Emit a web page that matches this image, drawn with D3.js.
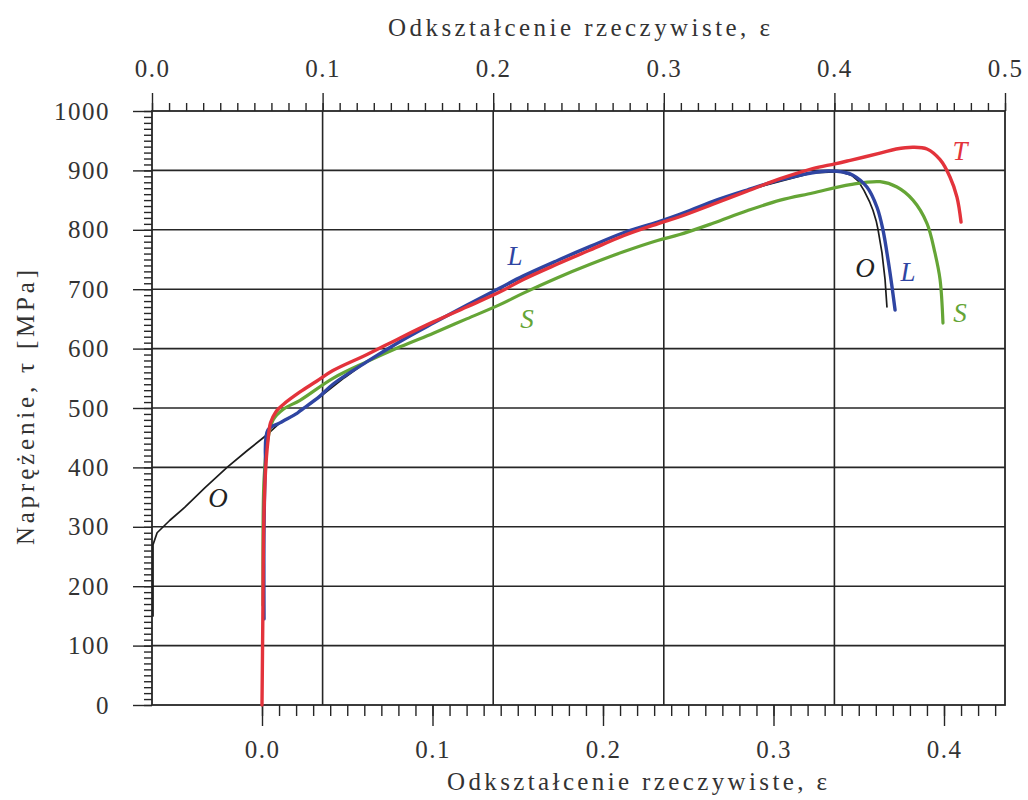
<!DOCTYPE html>
<html>
<head>
<meta charset="utf-8">
<script src="https://cdn.jsdelivr.net/npm/d3@7"></script>
<style>
  body { margin: 0; background: #fff; }
  text { font-family: "Liberation Serif", "Times New Roman", serif; fill: #333; }
</style>
</head>
<body>
<svg id="chart" width="1028" height="800"></svg>
<script>

// curves T, L, S are read against the bottom axis, O against the top axis
// each point: [strain, stress MPa]
const curveT = [[0.000,0],[0.0005,150],[0.0010,300],[0.0020,390],[0.0035,445],[0.0050,475],[0.0080,493],[0.0125,506],
  [0.0223,527],[0.0320,545],[0.0416,563],[0.0616,590],[0.0810,618],[0.1005,645],[0.1200,670],[0.1400,696],[0.1530,716],[0.1730,742],
  [0.1925,766],[0.2120,790],[0.2320,810],[0.2450,822],[0.2645,843],[0.2845,865],[0.3040,886],[0.3230,903],[0.3360,911],
  [0.3450,917],[0.3625,929],[0.3720,936],[0.3820,939],[0.3900,936],[0.3977,918],[0.4035,889],[0.4076,855],[0.4100,813]];

const curveL = [[0.0012,145],[0.0012,300],[0.0020,400],[0.0035,463],[0.0105,475],[0.0205,491],[0.0223,495],[0.0340,520],
  [0.0416,540],[0.0616,578],[0.0810,612],[0.1005,643],[0.1200,673],[0.1395,702],[0.1530,722],[0.1730,748],[0.1925,772],
  [0.2120,795],[0.2320,813],[0.2450,826],[0.2645,848],[0.2845,867],[0.3040,884],[0.3230,896],[0.3320,899],[0.3410,897],
  [0.3466,892],[0.3548,872],[0.3607,838],[0.3642,800],[0.3672,749],[0.3695,704],[0.3713,665]];

const curveS = [[0.0006,168],[0.0006,300],[0.0012,380],[0.0030,440],[0.0065,480],[0.0125,498],[0.0223,513],[0.0416,550],
  [0.0616,578],[0.0810,603],[0.1005,626],[0.1200,650],[0.1395,674],[0.1530,693],[0.1730,719],[0.1925,742],[0.2120,763],
  [0.2320,782],[0.2450,792],[0.2645,811],[0.2845,832],[0.3040,850],[0.3230,862],[0.3450,876],[0.3625,881],[0.3724,872],
  [0.3818,850],[0.3900,811],[0.3947,761],[0.3977,716],[0.3994,643]];

const curveO = [[0.0006,150],[0.0006,270],[0.0030,290],[0.0105,311],[0.0193,333],[0.0311,366],[0.0440,400],[0.0557,428],
  [0.0674,455],[0.0750,475],[0.0850,491],[0.1000,522],[0.1128,551],[0.1260,578],[0.1454,612],[0.1647,643],[0.1846,673],
  [0.2040,702],[0.2374,748],[0.2761,795],[0.3154,830],[0.3488,867],[0.3875,896],[0.4030,898],[0.4100,892],[0.4140,882],
  [0.4174,866],[0.4205,848],[0.4226,833],[0.4245,815],[0.4256,800],[0.4279,761],[0.4297,716],[0.4308,670]];

// curve letters: [text, strain, stress, which axis]
const labelsT = [['T', 0.4094, 934, 'bottom']];
const labelsL = [['L', 0.1484, 756, 'bottom'], ['L', 0.3789, 729, 'bottom']];
const labelsS = [['S', 0.1554, 651, 'bottom'], ['S', 0.4094, 660, 'bottom']];
const labelsO = [['O', 0.3537, 736, 'bottom'], ['O', 0.0387, 350, 'top']];

const topTicks = [0, 0.1, 0.2, 0.3, 0.4, 0.5];
const bottomTicks = [0, 0.1, 0.2, 0.3, 0.4];
const yTicks = [0, 100, 200, 300, 400, 500, 600, 700, 800, 900, 1000];

const xTitle = 'Odkształcenie rzeczywiste,  ε';
const yTitle = 'Naprężenie, τ  [MPa]';

const plotLeft = 152, plotRight = 1005, plotTop = 111, plotBottom = 705;

const svg = d3.select('#chart');

const xTop = d3.scaleLinear().domain([0, 0.5]).range([plotLeft, plotRight]);
const xBot = d3.scaleLinear().domain([0, 0.4]).range([262, 944]);
const yScale = d3.scaleLinear().domain([0, 1000]).range([plotBottom, plotTop]);

const gridColor = '#262626';

// grid
const grid = svg.append('g');
grid.selectAll('.hgrid')
  .data(yTicks.filter(d => d > 0 && d < 1000))
  .join('line')
  .attr('x1', plotLeft).attr('x2', plotRight)
  .attr('y1', d => yScale(d)).attr('y2', d => yScale(d))
  .attr('stroke', gridColor).attr('stroke-width', 1.6);

grid.selectAll('.vgrid')
  .data(topTicks.filter(d => d > 0 && d < 0.5))
  .join('line')
  .attr('x1', d => xTop(d)).attr('x2', d => xTop(d))
  .attr('y1', plotTop).attr('y2', plotBottom)
  .attr('stroke', gridColor).attr('stroke-width', 1.6);

// axes
const fmt = d3.format('.1f');

function styleAxis(g) {
  g.select('.domain').remove();
  g.selectAll('.tick line').attr('stroke', gridColor).attr('stroke-width', 1.4);
  g.selectAll('.tick text').attr('fill', '#333').attr('font-size', 25)
    .attr('font-family', '"Liberation Serif", serif').attr('letter-spacing', 1.5);
}

svg.append('g').attr('transform', 'translate(0,' + plotTop + ')')
  .call(d3.axisTop(xTop).tickValues(d3.range(0, 51).map(i => i / 100)).tickSize(8).tickFormat(''))
  .call(styleAxis);
svg.append('g').attr('transform', 'translate(0,' + plotTop + ')')
  .call(d3.axisTop(xTop).tickValues(topTicks).tickSize(18).tickPadding(16).tickFormat(fmt))
  .call(styleAxis);

svg.append('g').attr('transform', 'translate(0,' + plotBottom + ')')
  .call(d3.axisBottom(xBot).tickValues(d3.range(0, 44).map(i => i / 100)).tickSize(11).tickFormat(''))
  .call(styleAxis);
svg.append('g').attr('transform', 'translate(0,' + plotBottom + ')')
  .call(d3.axisBottom(xBot).tickValues(bottomTicks).tickSize(21).tickPadding(14).tickFormat(fmt))
  .call(styleAxis);

svg.append('g').attr('transform', 'translate(' + plotLeft + ',0)')
  .call(d3.axisLeft(yScale).tickValues(d3.range(0, 1001, 10)).tickSize(8).tickFormat(''))
  .call(styleAxis);
svg.append('g').attr('transform', 'translate(' + plotLeft + ',0)')
  .call(d3.axisLeft(yScale).tickValues(yTicks).tickSize(19).tickPadding(23).tickFormat(d3.format('d')))
  .call(styleAxis);

// frame
svg.append('rect')
  .attr('x', plotLeft).attr('y', plotTop)
  .attr('width', plotRight - plotLeft).attr('height', plotBottom - plotTop)
  .attr('fill', 'none').attr('stroke', gridColor).attr('stroke-width', 1.8);

// titles
svg.append('text').text(xTitle)
  .attr('x', 388).attr('y', 36)
  .attr('font-size', 25).attr('textLength', 382).attr('lengthAdjust', 'spacing');

svg.append('text').text(xTitle)
  .attr('x', 447).attr('y', 790)
  .attr('font-size', 25).attr('textLength', 380).attr('lengthAdjust', 'spacing');

svg.append('text').text(yTitle)
  .attr('transform', 'translate(34,545) rotate(-90)')
  .attr('font-size', 25).attr('textLength', 275).attr('lengthAdjust', 'spacing');

// curves
const lineBot = d3.line()
  .x(d => xBot(d[0]))
  .y(d => yScale(d[1]))
  .curve(d3.curveCatmullRom.alpha(0.5));

// O is thin and kinked at the start, draw it straight between points
const lineTop = d3.line()
  .x(d => xTop(d[0]))
  .y(d => yScale(d[1]));

const series = [
  { data: curveO, line: lineTop, color: '#1c1c1c', width: 1.7, labels: labelsO },
  { data: curveS, line: lineBot, color: '#65a536', width: 3.2, labels: labelsS },
  { data: curveL, line: lineBot, color: '#2f45a2', width: 3.4, labels: labelsL },
  { data: curveT, line: lineBot, color: '#e3333b', width: 3.4, labels: labelsT }
];

series.forEach(s => {
  svg.append('path')
    .datum(s.data)
    .attr('d', s.line)
    .attr('fill', 'none')
    .attr('stroke', s.color)
    .attr('stroke-width', s.width)
    .attr('stroke-linejoin', 'round')
    .attr('stroke-linecap', 'round');
});

series.forEach(s => {
  svg.selectAll(null)
    .data(s.labels)
    .join('text')
    .text(d => d[0])
    .attr('x', d => d[3] === 'top' ? xTop(d[1]) : xBot(d[1]))
    .attr('y', d => yScale(d[2]))
    .attr('dy', '0.35em')
    .attr('text-anchor', 'middle')
    .attr('font-size', 27)
    .attr('font-style', 'italic')
    .style('fill', s.color === '#1c1c1c' ? '#222' : s.color);
});

</script>
</body>
</html>
